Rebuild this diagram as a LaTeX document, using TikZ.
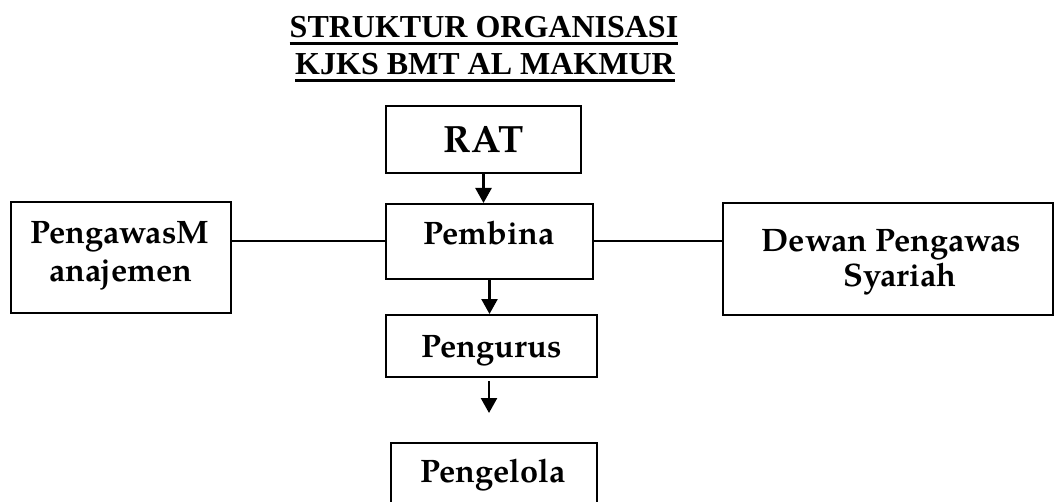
\documentclass[tikz,border=0pt]{standalone}
\usepackage{fontspec}
\usetikzlibrary{arrows.meta}
\newfontfamily\titlefont{Liberation Serif}
\newfontfamily\boxfont{texgyrepagella}[Extension=.otf,UprightFont=*-regular,BoldFont=*-bold]
\tikzset{
  box/.style={draw=black,line width=2pt,inner sep=0pt,fill=none},
  ttl/.style={inner sep=0pt,anchor=base,font=\titlefont\bfseries\fontsize{32}{38}\selectfont},
  lbl/.style={inner sep=0pt,anchor=base,font=\boxfont\bfseries\fontsize{32.5}{38}\selectfont},
  big/.style={inner sep=0pt,anchor=base,font=\boxfont\bfseries\fontsize{38}{44}\selectfont},
  conn/.style={line width=2pt},
  arr/.style={line width=2.5pt,-{Triangle[width=16pt,length=15pt]}},
  uline/.style={line width=3pt}
}
\begin{document}
\begin{tikzpicture}[x=1pt,y=-1pt]
\useasboundingbox (0,0) rectangle (1056,502);
\clip (0,0) rectangle (1056,502);
\fill[white] (0,0) rectangle (1056,502);
% title
\node[ttl] (t1) at (484,38) {STRUKTUR ORGANISASI};
\node[ttl] (t2) at (485,75) {KJKS BMT AL MAKMUR};
\draw[uline] ([yshift=-6pt]t1.base west) -- ([yshift=-6pt]t1.base east);
\draw[uline] ([yshift=-6pt]t2.base west) -- ([yshift=-6pt]t2.base east);
% boxes
\node[box,minimum width=195pt,minimum height=67pt] (rat) at (483.5,139.5) {};
\node[box,minimum width=207pt,minimum height=75pt] (pembina) at (489.5,241.5) {};
\node[box,minimum width=220pt,minimum height=111pt] (pm) at (121,257.5) {};
\node[box,minimum width=330pt,minimum height=112pt] (dps) at (888,259) {};
\node[box,minimum width=211pt,minimum height=62pt] (pengurus) at (491.5,346) {};
\node[box,minimum width=206pt,minimum height=80pt] (pengelola) at (494,483) {};
% texts
\node[big] (trat) at (483.7,152.7) {RAT};
\node[lbl] (tpembina) at (489,245) {Pembina};
\node[lbl] (tpm1) at (120,244) {PengawasM};
\node[lbl] (tpm2) at (121,282) {anajemen};
\node[lbl] (tdps1) at (891.5,252) {Dewan Pengawas};
\node[lbl] (tdps2) at (900,287) {Syariah};
\node[lbl] (tpengurus) at (492,357) {Pengurus};
\node[lbl] (tpengelola) at (493,482.7) {Pengelola};
% connectors
\draw[arr] (rat.south) -- (rat.south |- pembina.north);
\draw[arr] (pembina.south) -- (pembina.south |- pengurus.north);
\coordinate (free) at (489,413);
\draw[arr,shorten <=3pt] (pengurus.south -| free) -- (free);
\draw[conn] (pembina.west -| pm.east) -- (pembina.west);
\draw[conn] (pembina.east) -- (pembina.east -| dps.west);
\end{tikzpicture}
\end{document}
